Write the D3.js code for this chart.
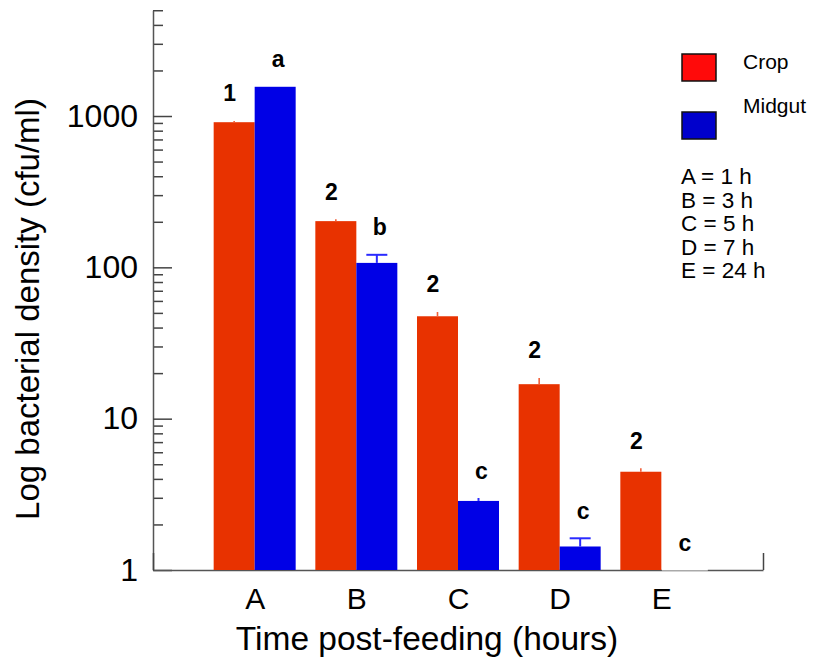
<!DOCTYPE html>
<html><head><meta charset="utf-8">
<script src="https://cdn.jsdelivr.net/npm/d3@7"></script>
<style>html,body{margin:0;padding:0;background:#fff;} svg{display:block;font-family:"Liberation Sans",Arial,Helvetica,sans-serif;}</style>
</head><body>
<svg id="chart" width="818" height="657"></svg>
<script>
const categories = ["A","B","C","D","E"];
const seriesNames = ["Crop","Midgut"];
const cropValues = [910, 202, 47.5, 16.9, 4.46];
const cropUpper = [927, 208, 50.7, 18.6, 4.70];
const midgutValues = [1560, 107, 2.86, 1.43, 1];
const midgutUpper = [null, 121, 2.99, 1.62, null];
const cropLabels = ["1","2","2","2","2"];
const midgutLabels = ["a","b","c","c","c"];
const yMajorTicks = [1, 10, 100, 1000];
const yMinorTicks = [2,3,4,5,6,7,8,9,20,30,40,50,60,70,80,90,200,300,400,500,600,700,800,900,2000,3000,4000,5000];
const timeKey = ["A = 1 h","B = 3 h","C = 5 h","D = 7 h","E = 24 h"];

const colors = {Crop:"#e83200", Midgut:"#0000e6"};
const legendColors = {Crop:"#ff0a0a", Midgut:"#0000cc"};
const errColors = {Crop:"#f2603a", Midgut:"#2a2aff"};

const svg = d3.select("#chart");
const y0 = 570, decade = 151.33;
const y = d3.scaleLog().domain([1, 5000]).range([y0, y0 - decade*Math.log10(5000)]);
const x = d3.scaleLinear().domain([0, 6]).range([153, 763]);
const sub = d3.scaleBand().domain(seriesNames).range([-41, 41]).padding(0);

// Y axis minor
const gyMinor = svg.append("g").attr("transform", "translate(153,0)")
  .call(d3.axisLeft(y).tickValues(yMinorTicks).tickSize(-10).tickFormat(""));
gyMinor.select(".domain").remove();
const gy = svg.append("g").attr("transform", "translate(153,0)")
  .call(d3.axisLeft(y).tickValues(yMajorTicks).tickSizeInner(-19).tickSizeOuter(0).tickPadding(15).tickFormat(d3.format("d")));
svg.selectAll("g .tick line").attr("stroke", "#444").attr("stroke-width", 1.5);
gy.select(".domain").attr("stroke", "#555").attr("stroke-width", 1.5);
gy.selectAll("text").attr("font-size", 32).attr("fill", "#000").attr("font-family", "Liberation Sans, Arial, sans-serif");

// X axis
const gx = svg.append("g").attr("transform", `translate(0,${y0})`)
  .call(d3.axisBottom(x).tickValues([1,2,3,4,5]).tickSize(0).tickPadding(18).tickFormat(d => categories[d-1]));
gx.select(".domain").attr("stroke", "#555").attr("stroke-width", 1.5);
gx.selectAll("text").attr("font-size", 30).attr("fill", "#000").attr("font-family", "Liberation Sans, Arial, sans-serif");
const gxEnds = svg.append("g").attr("transform", `translate(0,${y0})`)
  .call(d3.axisBottom(x).tickValues([0,6]).tickSize(-17).tickFormat(""));
gxEnds.select(".domain").remove();
gxEnds.selectAll("line").attr("stroke", "#444").attr("stroke-width", 1.5);

// data rows
const rows = [];
categories.forEach((c, i) => {
  rows.push({cat: i+1, s: "Crop", v: cropValues[i], hi: cropUpper[i], lab: cropLabels[i], dx: -4.5});
  rows.push({cat: i+1, s: "Midgut", v: midgutValues[i], hi: midgutUpper[i], lab: midgutLabels[i], dx: 3});
});
const barX = d => x(d.cat) + sub(d.s);
const barCx = d => barX(d) + sub.bandwidth()/2;
const topY = d => y(d.hi != null ? Math.max(d.hi, d.v) : d.v);

// label backgrounds (white boxes)
svg.append("g").selectAll("rect").data(rows).join("rect")
  .attr("x", d => barCx(d) + d.dx - 23).attr("y", d => topY(d) - 19.5 - 24)
  .attr("width", 46).attr("height", 44).attr("fill", "#fff");

// bars
svg.append("g").selectAll("rect").data(rows).join("rect")
  .attr("x", barX).attr("width", sub.bandwidth())
  .attr("y", d => y(d.v)).attr("height", d => y(1) - y(d.v))
  .attr("fill", d => colors[d.s]);

// error bars
const errRows = rows.filter(d => d.hi != null);
svg.append("g").selectAll("line").data(errRows).join("line")
  .attr("x1", barCx).attr("x2", barCx)
  .attr("y1", d => y(d.v)).attr("y2", d => y(d.hi))
  .attr("stroke", d => errColors[d.s]).attr("stroke-width", d => d.s === "Crop" ? 1.6 : 2);
svg.append("g").selectAll("line").data(errRows.filter(d => d.s === "Midgut" && (y(d.v) - y(d.hi)) > 5)).join("line")
  .attr("x1", d => barCx(d) - 10.5).attr("x2", d => barCx(d) + 10.5)
  .attr("y1", d => y(d.hi)).attr("y2", d => y(d.hi))
  .attr("stroke", d => errColors[d.s]).attr("stroke-width", 2);

// significance labels
svg.append("g").selectAll("text").data(rows).join("text")
  .attr("x", d => barCx(d) + d.dx).attr("y", d => topY(d) - 19.5)
  .attr("text-anchor", "middle").attr("font-weight", "bold").attr("font-size", 23)
  .text(d => d.lab);

// axis titles
svg.append("text").attr("x", 427).attr("y", 650).attr("text-anchor", "middle")
  .attr("font-size", 33.5).text("Time post-feeding (hours)");
svg.append("text").attr("transform", "translate(39,309) rotate(-90)").attr("text-anchor", "middle")
  .attr("font-size", 33).text("Log bacterial density (cfu/ml)");

// legend
const lg = svg.append("g");
const legendTextY = [69, 113];
seriesNames.forEach((s, i) => {
  lg.append("rect").attr("x", 682).attr("y", 54 + i*58).attr("width", 34).attr("height", 27)
    .attr("fill", legendColors[s]).attr("stroke", "#111").attr("stroke-width", 1.5);
  lg.append("text").attr("x", 743).attr("y", legendTextY[i]).attr("font-size", 21).text(s);
});
lg.selectAll(null).data(timeKey).join("text")
  .attr("x", 681).attr("y", (d, i) => 184 + i*23.5).attr("font-size", 22.5).text(d => d);
</script>
</body></html>
